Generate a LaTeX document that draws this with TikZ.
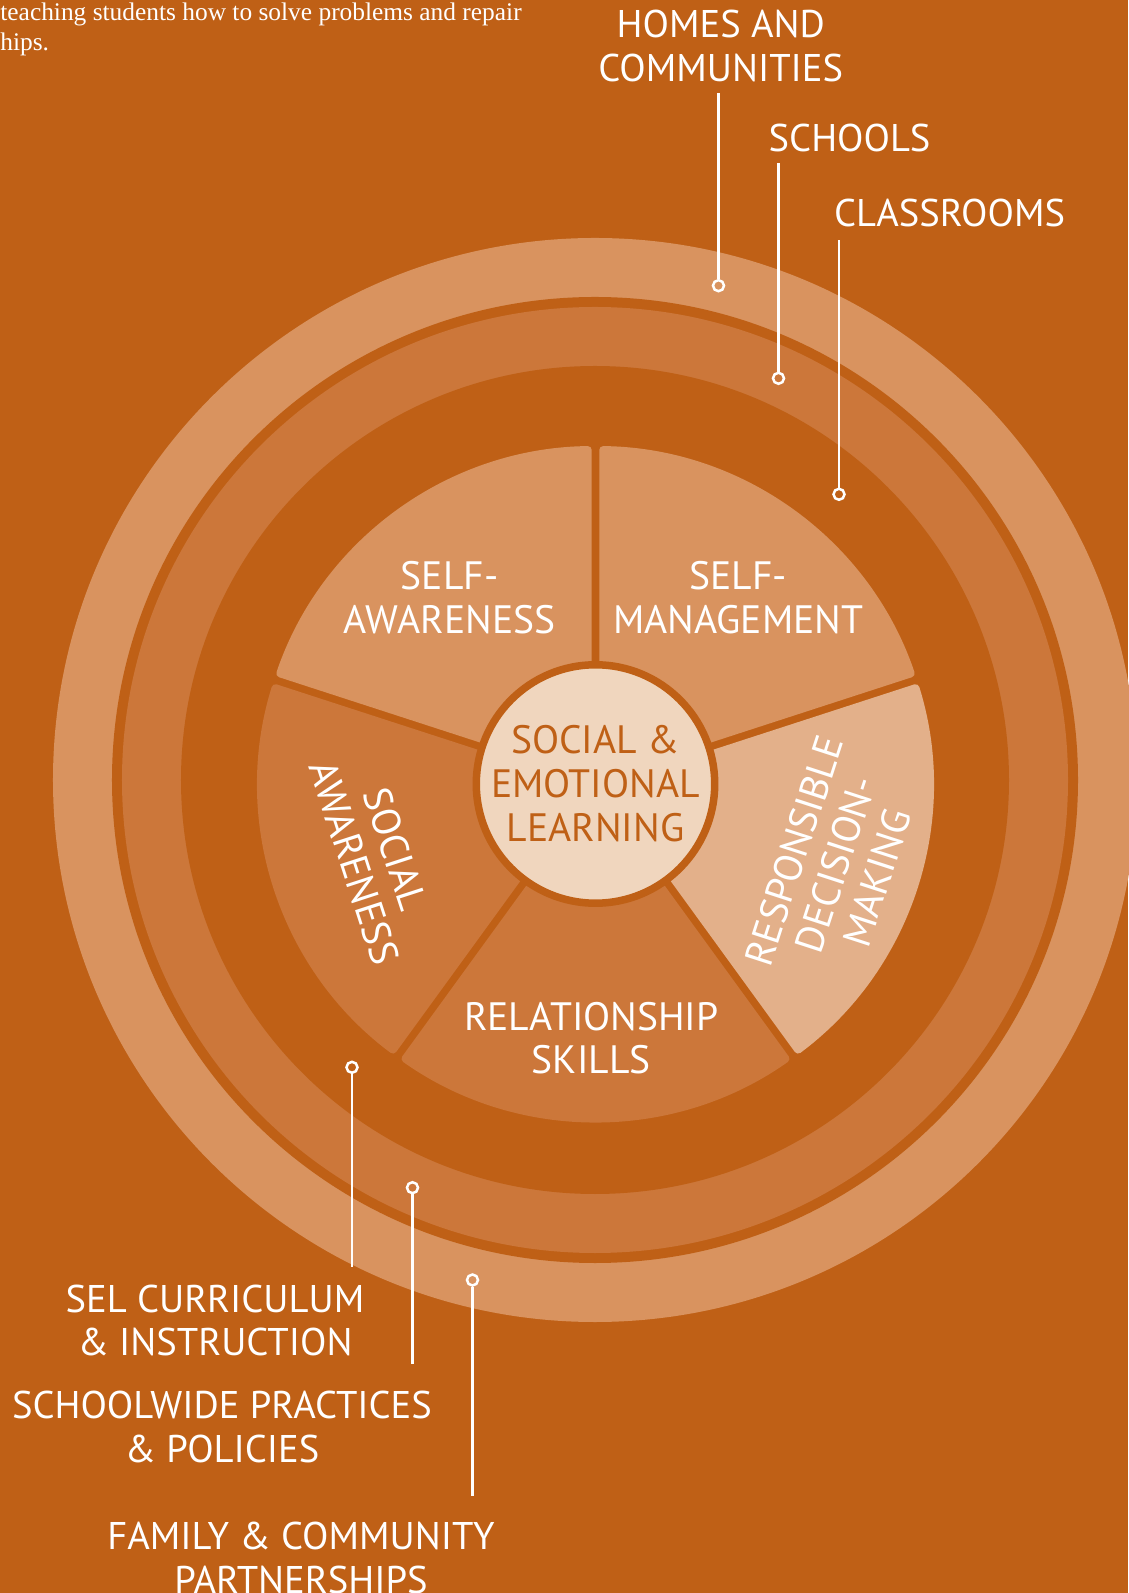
\documentclass[tikz,border=0pt]{standalone}
\usepackage{fontspec}
\setmainfont{Liberation Serif}
\newfontfamily\dinfont{PT Sans}
\usepackage{xcolor}
\usepackage{tikz}
\usetikzlibrary{positioning, calc}

\definecolor{selorange}{HTML}{BF6016}
\definecolor{ringlight}{HTML}{D9935F}
\definecolor{ringmid}{HTML}{CC773A}
\definecolor{sectpale}{HTML}{E3B08A}
\definecolor{hubfill}{HTML}{F0D6BE}

\begin{document}
\begin{tikzpicture}[x=0.5pt, y=0.5pt,
    lbl/.style={font=\dinfont\fontsize{19.3}{21.75}\selectfont, text=white, align=center, inner sep=0pt},
    sectlbl/.style={lbl, font=\dinfont\fontsize{19.8}{21.75}\selectfont},
    ringdot/.style={circle, draw=white, line width=1.25pt, minimum size=5.5pt, inner sep=0pt},
    leader/.style={white, line width=1.25pt}]
    % Page and background
    \useasboundingbox (-595.5, -809) rectangle (532.5, 784);
    \fill[selorange] (-595.5, -809) rectangle (532.5, 784);

    % Intro text (cut off at the page edge)
    \node[anchor=north west, inner sep=0pt, align=left, text=white, font=\fontsize{12.7}{15.4}\selectfont] (intro) at (-595.5, 782) {teaching students how to solve problems and repair\\hips.};

    % Rings: homes, schools, classrooms
    \coordinate (ringc) at (-0.5, 4);
    \fill[ringlight] (ringc) circle[radius=542];
    \fill[selorange] (ringc) circle[radius=483];
    \fill[ringmid] (ringc) circle[radius=473];
    \fill[selorange] (ringc) circle[radius=414];

    % Five competency sectors
    \foreach \a/\col in {18/ringlight, 90/ringlight, 162/ringmid, 234/ringmid, 306/sectpale} {
        \fill[\col, rounded corners=2pt] ({\a+36}:6.4) -- ({\a+0.64}:338)
            arc[start angle={\a+0.64}, end angle={\a+71.36}, radius=338] -- cycle;
    }

    % Hub
    \node[circle, fill=hubfill, draw=selorange, line width=3.75pt, minimum size=116.25pt, inner sep=0pt,
        align=center, text=selorange, font=\dinfont\fontsize{19.8}{22}\selectfont] (hub) at (0, 0)
        {SOCIAL \&\\EMOTIONAL\\LEARNING};

    % Sector labels
    \node[sectlbl] (selfaw) at (-145.8, 186.5) {SELF-\\AWARENESS};
    \node[sectlbl] (selfman) at (142.8, 186.5) {SELF-\\MANAGEMENT};
    \node[sectlbl, rotate=72] (decide) at (-18.5:253) {RESPONSIBLE\\DECISION-\\MAKING};
    \node[sectlbl] (relskill) at (-4.2, -254.3) {RELATIONSHIP\\SKILLS};
    \node[sectlbl, rotate=-72] (socaw) at (198:232) {SOCIAL\\AWARENESS};

    % Ring labels
    \node[lbl] (homes) at (125.3, 737.8) {HOMES AND\\COMMUNITIES};
    \node[lbl] (schools) at (254.1, 646.1) {SCHOOLS};
    \node[lbl] (classrooms) at (354.1, 571) {CLASSROOMS};
    \node[lbl] (curric) at (-380.5, -536.5) {SEL CURRICULUM\\\& INSTRUCTION};
    \node[lbl] (schoolwide) at (-373.5, -642.8) {SCHOOLWIDE PRACTICES\\\& POLICIES};
    \node[lbl] (family) at (-294.5, -774) {FAMILY \& COMMUNITY\\PARTNERSHIPS};

    % Leaders from rings to labels
    \node[ringdot] (homesdot) at (123, 498.3) {};
    \node[ringdot] (schoolsdot) at (183, 405.7) {};
    \node[ringdot] (classdot) at (243.5, 289.7) {};
    \node[ringdot] (curricdot) at (-243.5, -283.3) {};
    \node[ringdot] (schoolwidedot) at (-183, -403.7) {};
    \node[ringdot] (familydot) at (-123, -496) {};
    \coordinate (homesend) at (123, 690.7);
    \coordinate (schoolsend) at (183, 621);
    \coordinate (classend) at (243.5, 544);
    \coordinate (curricend) at (-243.5, -483.3);
    \coordinate (schoolwideend) at (-183, -580.3);
    \coordinate (familyend) at (-123, -712);
    \draw[leader] (homesdot) -- (homesend);
    \draw[leader] (schoolsdot) -- (schoolsend);
    \draw[leader] (classdot) -- (classend);
    \draw[leader] (curricdot) -- (curricend);
    \draw[leader] (schoolwidedot) -- (schoolwideend);
    \draw[leader] (familydot) -- (familyend);

\end{tikzpicture}
\end{document}
